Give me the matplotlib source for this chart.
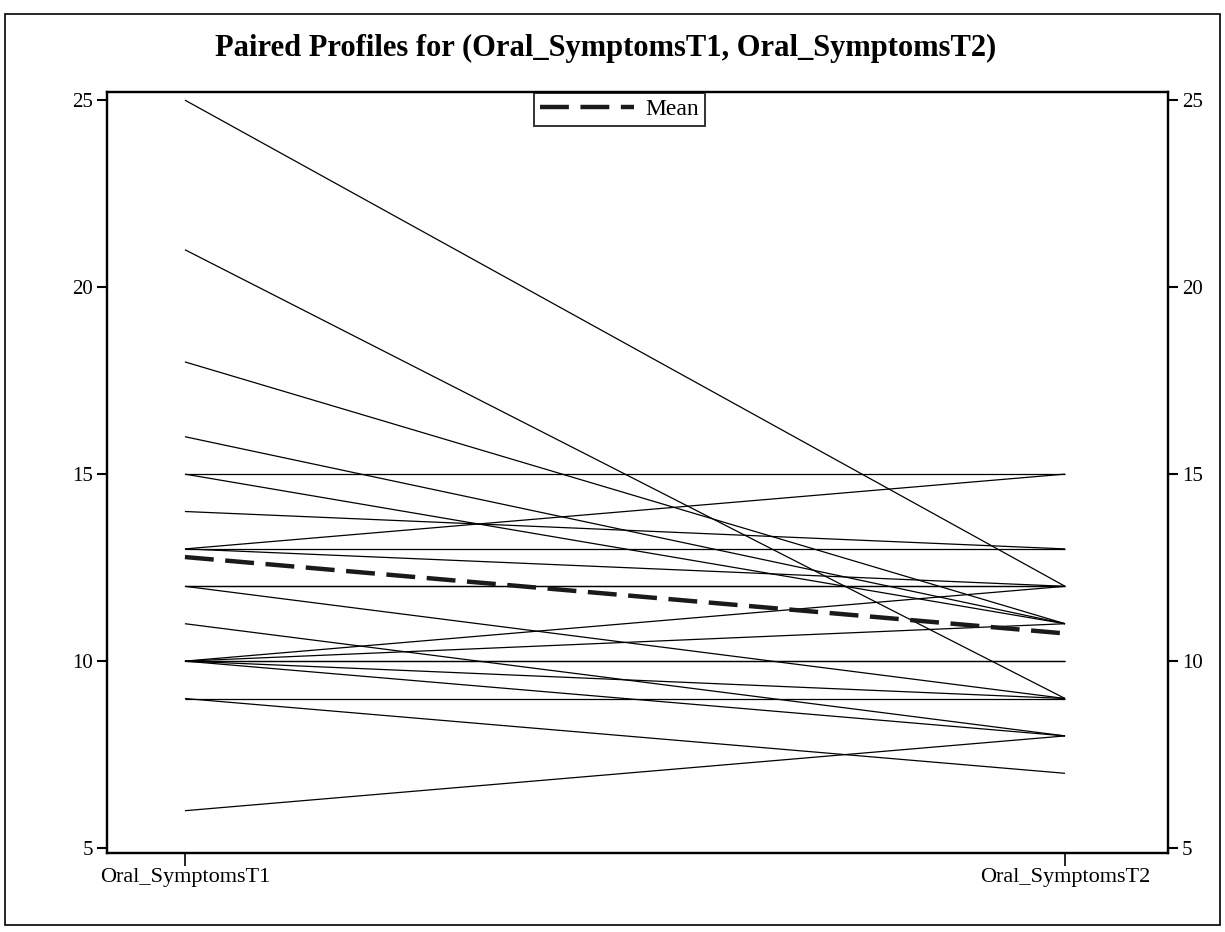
import matplotlib
matplotlib.use("Agg")
import matplotlib.pyplot as plt
from matplotlib.patches import Rectangle
import numpy as np

plt.rcParams['font.family'] = ['Liberation Serif', 'DejaVu Serif']

categories = ["Oral_SymptomsT1", "Oral_SymptomsT2"]
t1 = [25, 21, 18, 16, 15, 15, 14, 13, 13, 13, 12, 12, 12, 11, 10, 10, 10, 10, 10, 10, 9, 9, 6]
t2 = [12, 9, 11, 11, 15, 11, 13, 15, 13, 12, 12, 12, 9, 8, 12, 11, 10, 10, 9, 8, 9, 7, 8]
yticks = [5, 10, 15, 20, 25]

fig = plt.figure(figsize=(12.25, 9.32), dpi=100)
ax = fig.add_axes([0.0873, 0.0848, 0.8662, 0.8162])

xs = [0, 1]
for a, b in zip(t1, t2):
    ax.plot(xs, [a, b], color='black', lw=0.9, solid_capstyle='butt')

m1, m2 = np.mean(t1), np.mean(t2)
ln, = ax.plot(xs, [m1, m2], color='#1a1a1a', lw=3.2, label='Mean')
ln.set_dashes((6.5, 2.6))

ax.set_xlim(-0.0886, 1.117)
ax.set_ylim(4.87, 25.21)
ax.set_xticks(xs)
ax.set_xticklabels(categories, fontsize=16)
ax.set_yticks(yticks)
ax.tick_params(axis='y', labelsize=15, length=7, width=1.5, direction='out', pad=3)
ax.tick_params(axis='x', length=9, width=1.2, direction='out', pad=2)

ax2 = ax.twinx()
ax2.set_ylim(ax.get_ylim())
ax2.set_yticks(yticks)
ax2.tick_params(axis='y', labelsize=15, length=7, width=1.5, direction='out', pad=3)

for a_ in (ax, ax2):
    for s in a_.spines.values():
        s.set_linewidth(1.6)
        s.set_color('black')

leg = ax.legend(loc='upper center', bbox_to_anchor=(0.483, 0.999), fontsize=17,
                frameon=True, fancybox=False, handlelength=4.0, borderpad=0.25,
                handletextpad=0.5, borderaxespad=0.0)
leg.get_frame().set_edgecolor('black')
leg.get_frame().set_linewidth(1.4)

fig.suptitle("Paired Profiles for (Oral_SymptomsT1, Oral_SymptomsT2)",
             x=0.494, y=0.964, fontsize=22, fontweight='bold')

fig.patches.append(Rectangle((0.004, 0.008), 0.992, 0.977, transform=fig.transFigure,
                             fill=False, edgecolor='black', lw=1.2))

fig.savefig("out.png", dpi=100)
